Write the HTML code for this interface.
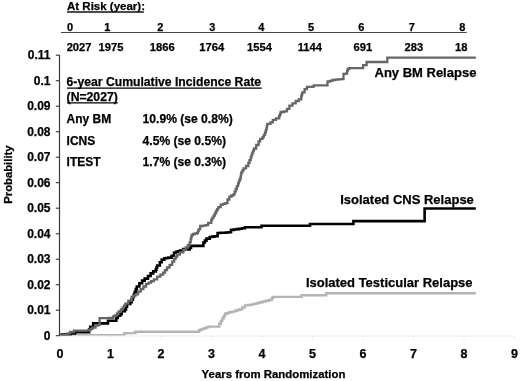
<!DOCTYPE html>
<html><head><meta charset="utf-8"><style>
html,body{margin:0;padding:0;background:#fff;width:520px;height:381px;overflow:hidden;}
svg{display:block;will-change:transform;font-family:"Liberation Sans", sans-serif;}
</style></head><body>
<svg width="520" height="381" viewBox="0 0 520 381"><line x1="59.5" y1="55" x2="59.5" y2="336.2" stroke="#3a3a3a" stroke-width="1.2"/>
<line x1="55.8" y1="335.7" x2="59.5" y2="335.7" stroke="#333" stroke-width="1.1"/>
<text x="50.5" y="339.7" font-family="Liberation Sans, sans-serif" font-weight="bold" stroke="#000" stroke-width="0.25" font-size="12" text-anchor="end">0</text>
<line x1="55.8" y1="310.2" x2="59.5" y2="310.2" stroke="#333" stroke-width="1.1"/>
<text x="50.5" y="314.2" font-family="Liberation Sans, sans-serif" font-weight="bold" stroke="#000" stroke-width="0.25" font-size="12" text-anchor="end">0.01</text>
<line x1="55.8" y1="284.7" x2="59.5" y2="284.7" stroke="#333" stroke-width="1.1"/>
<text x="50.5" y="288.7" font-family="Liberation Sans, sans-serif" font-weight="bold" stroke="#000" stroke-width="0.25" font-size="12" text-anchor="end">0.02</text>
<line x1="55.8" y1="259.2" x2="59.5" y2="259.2" stroke="#333" stroke-width="1.1"/>
<text x="50.5" y="263.2" font-family="Liberation Sans, sans-serif" font-weight="bold" stroke="#000" stroke-width="0.25" font-size="12" text-anchor="end">0.03</text>
<line x1="55.8" y1="233.7" x2="59.5" y2="233.7" stroke="#333" stroke-width="1.1"/>
<text x="50.5" y="237.7" font-family="Liberation Sans, sans-serif" font-weight="bold" stroke="#000" stroke-width="0.25" font-size="12" text-anchor="end">0.04</text>
<line x1="55.8" y1="208.2" x2="59.5" y2="208.2" stroke="#333" stroke-width="1.1"/>
<text x="50.5" y="212.2" font-family="Liberation Sans, sans-serif" font-weight="bold" stroke="#000" stroke-width="0.25" font-size="12" text-anchor="end">0.05</text>
<line x1="55.8" y1="182.7" x2="59.5" y2="182.7" stroke="#333" stroke-width="1.1"/>
<text x="50.5" y="186.7" font-family="Liberation Sans, sans-serif" font-weight="bold" stroke="#000" stroke-width="0.25" font-size="12" text-anchor="end">0.06</text>
<line x1="55.8" y1="157.2" x2="59.5" y2="157.2" stroke="#333" stroke-width="1.1"/>
<text x="50.5" y="161.2" font-family="Liberation Sans, sans-serif" font-weight="bold" stroke="#000" stroke-width="0.25" font-size="12" text-anchor="end">0.07</text>
<line x1="55.8" y1="131.7" x2="59.5" y2="131.7" stroke="#333" stroke-width="1.1"/>
<text x="50.5" y="135.7" font-family="Liberation Sans, sans-serif" font-weight="bold" stroke="#000" stroke-width="0.25" font-size="12" text-anchor="end">0.08</text>
<line x1="55.8" y1="106.2" x2="59.5" y2="106.2" stroke="#333" stroke-width="1.1"/>
<text x="50.5" y="110.2" font-family="Liberation Sans, sans-serif" font-weight="bold" stroke="#000" stroke-width="0.25" font-size="12" text-anchor="end">0.09</text>
<line x1="55.8" y1="80.7" x2="59.5" y2="80.7" stroke="#333" stroke-width="1.1"/>
<text x="50.5" y="84.7" font-family="Liberation Sans, sans-serif" font-weight="bold" stroke="#000" stroke-width="0.25" font-size="12" text-anchor="end">0.1</text>
<line x1="55.8" y1="55.2" x2="59.5" y2="55.2" stroke="#333" stroke-width="1.1"/>
<text x="50.5" y="59.2" font-family="Liberation Sans, sans-serif" font-weight="bold" stroke="#000" stroke-width="0.25" font-size="12" text-anchor="end">0.11</text>
<line x1="60" y1="336" x2="514" y2="336" stroke="#e8e8e8" stroke-width="1"/>
<line x1="60.0" y1="336" x2="60.0" y2="340" stroke="#eeeeee" stroke-width="1"/>
<text x="60.0" y="357.6" font-family="Liberation Sans, sans-serif" font-weight="bold" stroke="#000" stroke-width="0.25" font-size="12.5" text-anchor="middle">0</text>
<line x1="110.5" y1="336" x2="110.5" y2="340" stroke="#eeeeee" stroke-width="1"/>
<text x="110.5" y="357.6" font-family="Liberation Sans, sans-serif" font-weight="bold" stroke="#000" stroke-width="0.25" font-size="12.5" text-anchor="middle">1</text>
<line x1="161.0" y1="336" x2="161.0" y2="340" stroke="#eeeeee" stroke-width="1"/>
<text x="161.0" y="357.6" font-family="Liberation Sans, sans-serif" font-weight="bold" stroke="#000" stroke-width="0.25" font-size="12.5" text-anchor="middle">2</text>
<line x1="211.5" y1="336" x2="211.5" y2="340" stroke="#eeeeee" stroke-width="1"/>
<text x="211.5" y="357.6" font-family="Liberation Sans, sans-serif" font-weight="bold" stroke="#000" stroke-width="0.25" font-size="12.5" text-anchor="middle">3</text>
<line x1="262.0" y1="336" x2="262.0" y2="340" stroke="#eeeeee" stroke-width="1"/>
<text x="262.0" y="357.6" font-family="Liberation Sans, sans-serif" font-weight="bold" stroke="#000" stroke-width="0.25" font-size="12.5" text-anchor="middle">4</text>
<line x1="312.5" y1="336" x2="312.5" y2="340" stroke="#eeeeee" stroke-width="1"/>
<text x="312.5" y="357.6" font-family="Liberation Sans, sans-serif" font-weight="bold" stroke="#000" stroke-width="0.25" font-size="12.5" text-anchor="middle">5</text>
<line x1="363.0" y1="336" x2="363.0" y2="340" stroke="#eeeeee" stroke-width="1"/>
<text x="363.0" y="357.6" font-family="Liberation Sans, sans-serif" font-weight="bold" stroke="#000" stroke-width="0.25" font-size="12.5" text-anchor="middle">6</text>
<line x1="413.5" y1="336" x2="413.5" y2="340" stroke="#eeeeee" stroke-width="1"/>
<text x="413.5" y="357.6" font-family="Liberation Sans, sans-serif" font-weight="bold" stroke="#000" stroke-width="0.25" font-size="12.5" text-anchor="middle">7</text>
<line x1="464.0" y1="336" x2="464.0" y2="340" stroke="#eeeeee" stroke-width="1"/>
<text x="464.0" y="357.6" font-family="Liberation Sans, sans-serif" font-weight="bold" stroke="#000" stroke-width="0.25" font-size="12.5" text-anchor="middle">8</text>
<line x1="514.5" y1="336" x2="514.5" y2="340" stroke="#eeeeee" stroke-width="1"/>
<text x="514.5" y="357.6" font-family="Liberation Sans, sans-serif" font-weight="bold" stroke="#000" stroke-width="0.25" font-size="12.5" text-anchor="middle">9</text>
<defs><clipPath id="pc"><rect x="60" y="40" width="440" height="295.6"/></clipPath></defs><g clip-path="url(#pc)">
<polyline points="60.5,335.3 124.2,335.3 124.2,333.2 126.4,333.2 126.4,333.1 128.7,333.1 128.7,333.1 130.9,333.1 130.9,333.1 133.1,333.1 133.1,333.0 135.4,333.0 135.4,331.8 196.2,331.8 199.2,331.8 199.2,330.0 201.5,330.0 201.5,329.1 203.8,329.1 203.8,328.2 206.2,328.2 206.2,327.4 208.5,327.4 208.5,326.6 217.7,326.6 219.2,326.6 219.2,323.8 220.8,323.8 220.8,321.1 222.3,321.1 222.3,318.5 223.7,318.5 223.7,316.1 225.0,316.1 225.0,313.8 226.9,313.8 226.9,313.1 228.8,313.1 228.8,312.3 231.9,312.3 231.9,311.6 235.0,311.6 235.0,310.8 237.3,310.8 237.3,310.0 239.6,310.0 239.6,309.2 242.3,309.2 242.3,307.3 245.0,307.3 245.0,305.4 247.7,305.4 247.7,305.0 250.4,305.0 250.4,304.6 253.4,304.6 253.4,303.9 256.5,303.9 256.5,303.1 259.6,303.1 259.6,302.3 262.7,302.3 262.7,301.5 265.8,301.5 265.8,300.8 268.8,300.8 268.8,300.0 271.9,300.0 271.9,297.7 273.5,297.7 273.5,296.9 301.5,296.9 301.5,295.3 326.2,295.3 326.2,293.2 475.8,293.2" fill="none" stroke="#b4b4b4" stroke-width="2.4"/>
<polyline points="60.5,334.4 70.5,334.4 70.5,333.4 75.0,333.4 75.0,332.2 88.0,332.2 89.1,332.2 89.1,329.5 90.2,329.5 90.2,326.8 93.2,326.8 93.2,323.3 95.7,323.3 95.7,323.3 98.1,323.3 98.1,323.4 100.6,323.4 100.6,323.4 103.1,323.4 103.1,323.4 105.5,323.4 105.5,323.5 108.0,323.5 108.0,323.5 108.0,320.8 110.3,320.8 110.3,320.8 112.5,320.8 112.5,320.7 114.8,320.7 114.8,320.7 116.3,320.7 116.3,318.0 117.8,318.0 117.8,315.7 120.2,315.7 120.2,314.2 121.7,314.2 121.7,311.1 124.9,311.1 124.9,309.4 126.0,309.4 126.0,306.7 127.0,306.7 127.0,304.0 130.2,304.0 130.2,302.2 131.6,302.2 131.6,299.6 132.9,299.6 132.9,297.0 133.9,297.0 133.9,294.4 134.8,294.4 134.8,291.7 135.8,291.7 135.8,289.1 136.8,289.1 136.8,286.5 139.4,286.5 139.4,283.2 142.1,283.2 142.1,280.6 144.7,280.6 144.7,278.6 148.0,278.6 148.0,276.0 150.6,276.0 150.6,273.4 153.2,273.4 153.2,271.4 155.8,271.4 155.8,269.4 156.5,269.4 156.5,267.4 157.2,267.4 157.2,265.5 159.8,265.5 159.8,262.2 161.7,262.2 161.7,259.6 164.4,259.6 164.4,258.3 166.4,258.3 166.4,258.0 168.3,258.0 168.3,257.6 171.6,257.6 171.6,255.7 174.0,255.7 174.0,252.8 175.9,252.8 175.9,251.8 177.9,251.8 177.9,251.2 179.9,251.2 179.9,250.5 183.2,250.5 183.2,249.1 185.5,249.1 185.5,249.3 187.8,249.3 187.8,249.5 189.7,249.5 189.7,247.8 191.0,247.8 191.0,245.9 201.0,245.9 203.4,245.9 203.4,242.5 204.9,242.5 204.9,240.6 206.5,240.6 206.5,238.6 209.7,238.6 209.7,237.0 212.1,237.0 212.1,236.6 214.4,236.6 214.4,236.2 217.6,236.2 217.6,233.0 220.3,233.0 220.3,232.8 223.1,232.8 223.1,232.7 225.8,232.7 225.8,232.5 228.6,232.5 228.6,232.3 231.0,232.3 231.0,229.9 233.8,229.9 233.8,229.5 236.5,229.5 236.5,229.1 239.2,229.1 239.2,228.7 242.0,228.7 242.0,228.3 245.0,228.3 245.0,227.2 261.5,227.2 261.5,225.8 310.0,225.8 310.0,224.0 353.4,224.0 353.4,221.1 424.6,221.1 424.6,208.5 475.8,208.5" fill="none" stroke="#000" stroke-width="2.6"/>
<polyline points="60.5,334.6 67.5,334.6 67.5,333.3 70.0,333.3 70.0,332.0 74.0,332.0 74.0,330.7 86.5,330.7 88.6,330.7 88.6,330.2 90.5,330.2 90.5,328.9 92.5,328.9 92.5,327.6 95.5,327.6 95.5,325.7 97.5,325.7 97.5,325.1 99.6,325.1 99.6,324.5 99.6,318.2 102.0,318.2 102.0,318.2 104.4,318.2 104.4,318.1 106.9,318.1 106.9,318.1 109.3,318.1 109.3,318.0 111.7,318.0 111.7,318.0 113.2,318.0 113.2,316.5 114.8,316.5 114.8,315.3 117.1,315.3 117.1,313.4 118.6,313.4 118.6,311.5 120.9,311.5 120.9,309.5 122.5,309.5 122.5,307.6 124.0,307.6 124.0,305.6 125.4,305.6 125.4,303.7 128.3,303.7 128.3,300.6 131.6,300.6 131.6,297.0 133.6,297.0 133.6,295.7 135.5,295.7 135.5,294.4 138.1,294.4 138.1,291.7 140.7,291.7 140.7,289.1 143.4,289.1 143.4,286.5 146.0,286.5 146.0,283.9 148.6,283.9 148.6,282.6 151.2,282.6 151.2,281.2 153.9,281.2 153.9,279.3 157.2,279.3 157.2,276.7 160.4,276.7 160.4,274.7 163.1,274.7 163.1,272.7 165.0,272.7 165.0,270.1 167.0,270.1 167.0,267.5 169.6,267.5 169.6,264.8 172.2,264.8 172.2,261.6 174.2,261.6 174.2,258.9 175.7,258.9 175.7,256.8 177.2,256.8 177.2,254.7 179.9,254.7 179.9,252.4 183.2,252.4 183.2,249.8 185.8,249.8 185.8,247.5 187.8,247.5 187.8,244.9 189.7,244.9 189.7,242.2 190.7,242.2 190.7,239.0 191.2,239.0 191.2,237.0 191.7,237.0 191.7,235.0 193.1,235.0 193.1,234.0 195.1,234.0 195.1,233.5 197.1,233.5 197.1,233.0 197.9,233.0 197.9,231.1 198.7,231.1 198.7,229.1 200.2,229.1 200.2,226.0 202.9,226.0 202.9,225.6 205.7,225.6 205.7,225.2 208.1,225.2 208.1,222.8 211.3,222.8 211.3,219.7 212.4,219.7 212.4,217.7 213.6,217.7 213.6,215.7 214.8,215.7 214.8,213.3 216.0,213.3 216.0,211.0 217.2,211.0 217.2,209.1 218.3,209.1 218.3,207.1 220.7,207.1 220.7,204.7 223.1,204.7 223.1,203.9 225.4,203.9 225.4,203.1 227.5,203.1 227.5,199.5 229.4,199.5 229.4,196.7 231.4,196.7 231.4,195.5 233.4,195.5 233.4,194.3 234.6,194.3 234.6,191.6 235.7,191.6 235.7,188.8 236.9,188.8 236.9,186.1 238.1,186.1 238.1,183.3 238.9,183.3 238.9,181.2 239.7,181.2 239.7,179.1 240.5,179.1 240.5,177.0 240.9,177.0 240.9,174.7 241.3,174.7 241.3,172.3 242.4,172.3 242.4,170.3 243.6,170.3 243.6,168.3 246.0,168.3 246.0,166.0 248.3,166.0 248.3,162.8 249.5,162.8 249.5,160.1 250.7,160.1 250.7,157.3 251.5,157.3 251.5,154.9 252.3,154.9 252.3,152.6 253.2,152.6 253.2,150.6 254.0,150.6 254.0,148.5 256.2,148.5 256.2,145.0 258.6,145.0 258.6,141.4 260.2,141.4 260.2,138.8 262.6,138.8 262.6,137.2 263.8,137.2 263.8,134.8 265.0,134.8 265.0,132.5 265.8,132.5 265.8,130.2 266.5,130.2 266.5,127.8 266.9,127.8 266.9,125.8 267.3,125.8 267.3,123.9 270.5,123.9 270.5,122.3 272.8,122.3 272.8,119.9 276.0,119.9 276.0,118.3 279.1,118.3 279.1,116.0 279.9,116.0 279.9,114.0 280.7,114.0 280.7,112.0 283.9,112.0 283.9,111.3 287.0,111.3 287.0,108.9 289.4,108.9 289.4,105.7 292.5,105.7 292.5,103.4 295.7,103.4 295.7,101.0 298.8,101.0 298.8,99.4 301.2,99.4 301.2,96.3 301.8,96.3 301.8,94.3 302.3,94.3 302.3,92.3 304.6,92.3 304.6,89.2 306.9,89.2 306.9,86.9 309.6,86.9 309.6,86.8 312.3,86.8 312.3,86.6 313.8,86.6 313.8,85.4 327.5,85.4 327.5,81.5 329.9,81.5 329.9,80.8 332.3,80.8 332.3,80.0 335.1,80.0 335.1,79.7 337.9,79.7 337.9,79.4 340.7,79.4 340.7,79.1 343.5,79.1 343.5,78.8 343.5,73.8 346.5,73.8 346.5,73.1 347.1,73.1 347.1,71.0 347.7,71.0 347.7,69.0 349.2,69.0 349.2,68.2 363.1,68.2 363.1,65.1 366.6,65.1 366.6,62.0 387.3,62.0 387.3,57.7 475.8,57.7" fill="none" stroke="#666" stroke-width="2.3"/>
</g>
<text x="67" y="10.1" font-family="Liberation Sans, sans-serif" font-weight="bold" stroke="#000" stroke-width="0.25" font-size="11.5">At Risk (year):</text>
<line x1="67" y1="12" x2="143.8" y2="12" stroke="#111" stroke-width="1.4"/>
<line x1="61" y1="32.5" x2="466.7" y2="32.5" stroke="#444" stroke-width="1"/>
<text x="70.1" y="30.5" font-family="Liberation Sans, sans-serif" font-weight="bold" stroke="#000" stroke-width="0.25" font-size="11" text-anchor="middle">0</text>
<text x="107.2" y="30.5" font-family="Liberation Sans, sans-serif" font-weight="bold" stroke="#000" stroke-width="0.25" font-size="11" text-anchor="middle">1</text>
<text x="160.3" y="30.5" font-family="Liberation Sans, sans-serif" font-weight="bold" stroke="#000" stroke-width="0.25" font-size="11" text-anchor="middle">2</text>
<text x="212.4" y="30.5" font-family="Liberation Sans, sans-serif" font-weight="bold" stroke="#000" stroke-width="0.25" font-size="11" text-anchor="middle">3</text>
<text x="261.3" y="30.5" font-family="Liberation Sans, sans-serif" font-weight="bold" stroke="#000" stroke-width="0.25" font-size="11" text-anchor="middle">4</text>
<text x="311" y="30.5" font-family="Liberation Sans, sans-serif" font-weight="bold" stroke="#000" stroke-width="0.25" font-size="11" text-anchor="middle">5</text>
<text x="361.3" y="30.5" font-family="Liberation Sans, sans-serif" font-weight="bold" stroke="#000" stroke-width="0.25" font-size="11" text-anchor="middle">6</text>
<text x="411.9" y="30.5" font-family="Liberation Sans, sans-serif" font-weight="bold" stroke="#000" stroke-width="0.25" font-size="11" text-anchor="middle">7</text>
<text x="462.2" y="30.5" font-family="Liberation Sans, sans-serif" font-weight="bold" stroke="#000" stroke-width="0.25" font-size="11" text-anchor="middle">8</text>
<text x="79.1" y="50.8" font-family="Liberation Sans, sans-serif" font-weight="bold" stroke="#000" stroke-width="0.25" font-size="11.2" text-anchor="middle">2027</text>
<text x="111.0" y="50.8" font-family="Liberation Sans, sans-serif" font-weight="bold" stroke="#000" stroke-width="0.25" font-size="11.2" text-anchor="middle">1975</text>
<text x="162.2" y="50.8" font-family="Liberation Sans, sans-serif" font-weight="bold" stroke="#000" stroke-width="0.25" font-size="11.2" text-anchor="middle">1866</text>
<text x="211.8" y="50.8" font-family="Liberation Sans, sans-serif" font-weight="bold" stroke="#000" stroke-width="0.25" font-size="11.2" text-anchor="middle">1764</text>
<text x="259.5" y="50.8" font-family="Liberation Sans, sans-serif" font-weight="bold" stroke="#000" stroke-width="0.25" font-size="11.2" text-anchor="middle">1554</text>
<text x="309.9" y="50.8" font-family="Liberation Sans, sans-serif" font-weight="bold" stroke="#000" stroke-width="0.25" font-size="11.2" text-anchor="middle">1144</text>
<text x="362.9" y="50.8" font-family="Liberation Sans, sans-serif" font-weight="bold" stroke="#000" stroke-width="0.25" font-size="11.2" text-anchor="middle">691</text>
<text x="413.9" y="50.8" font-family="Liberation Sans, sans-serif" font-weight="bold" stroke="#000" stroke-width="0.25" font-size="11.2" text-anchor="middle">283</text>
<text x="461.2" y="50.8" font-family="Liberation Sans, sans-serif" font-weight="bold" stroke="#000" stroke-width="0.25" font-size="11.2" text-anchor="middle">18</text>
<text x="66.6" y="85.8" font-family="Liberation Sans, sans-serif" font-weight="bold" stroke="#000" stroke-width="0.25" font-size="12.2">6-year Cumulative Incidence Rate</text>
<line x1="67" y1="88.2" x2="261.8" y2="88.2" stroke="#000" stroke-width="1.3"/>
<text x="66.6" y="100.8" font-family="Liberation Sans, sans-serif" font-weight="bold" stroke="#000" stroke-width="0.25" font-size="12.2">(N=2027)</text>
<line x1="67" y1="102.8" x2="117.8" y2="102.8" stroke="#000" stroke-width="1.3"/>
<text x="66.6" y="122.7" font-family="Liberation Sans, sans-serif" font-weight="bold" stroke="#000" stroke-width="0.25" font-size="12">Any BM</text>
<text x="142.6" y="122.7" font-family="Liberation Sans, sans-serif" font-weight="bold" stroke="#000" stroke-width="0.25" font-size="12.1">10.9% (se 0.8%)</text>
<text x="66.6" y="144.5" font-family="Liberation Sans, sans-serif" font-weight="bold" stroke="#000" stroke-width="0.25" font-size="12">ICNS</text>
<text x="142.6" y="144.5" font-family="Liberation Sans, sans-serif" font-weight="bold" stroke="#000" stroke-width="0.25" font-size="12.1">4.5% (se 0.5%)</text>
<text x="66.6" y="166.1" font-family="Liberation Sans, sans-serif" font-weight="bold" stroke="#000" stroke-width="0.25" font-size="12">ITEST</text>
<text x="142.6" y="166.1" font-family="Liberation Sans, sans-serif" font-weight="bold" stroke="#000" stroke-width="0.25" font-size="12.1">1.7% (se 0.3%)</text>
<text x="374.5" y="76.8" font-family="Liberation Sans, sans-serif" font-weight="bold" stroke="#000" stroke-width="0.25" font-size="13">Any BM Relapse</text>
<text x="340.2" y="203.9" font-family="Liberation Sans, sans-serif" font-weight="bold" stroke="#000" stroke-width="0.25" font-size="13">Isolated CNS Relapse</text>
<text x="305.9" y="286.9" font-family="Liberation Sans, sans-serif" font-weight="bold" stroke="#000" stroke-width="0.25" font-size="13">Isolated Testicular Relapse</text>
<text x="201.6" y="377.9" font-family="Liberation Sans, sans-serif" font-weight="bold" stroke="#000" stroke-width="0.25" font-size="11.42">Years from Randomization</text>
<text transform="translate(11.6,203.8) rotate(-90)" x="0" y="0" font-family="Liberation Sans, sans-serif" font-weight="bold" stroke="#000" stroke-width="0.25" font-size="11.3">Probability</text></svg>
</body></html>
